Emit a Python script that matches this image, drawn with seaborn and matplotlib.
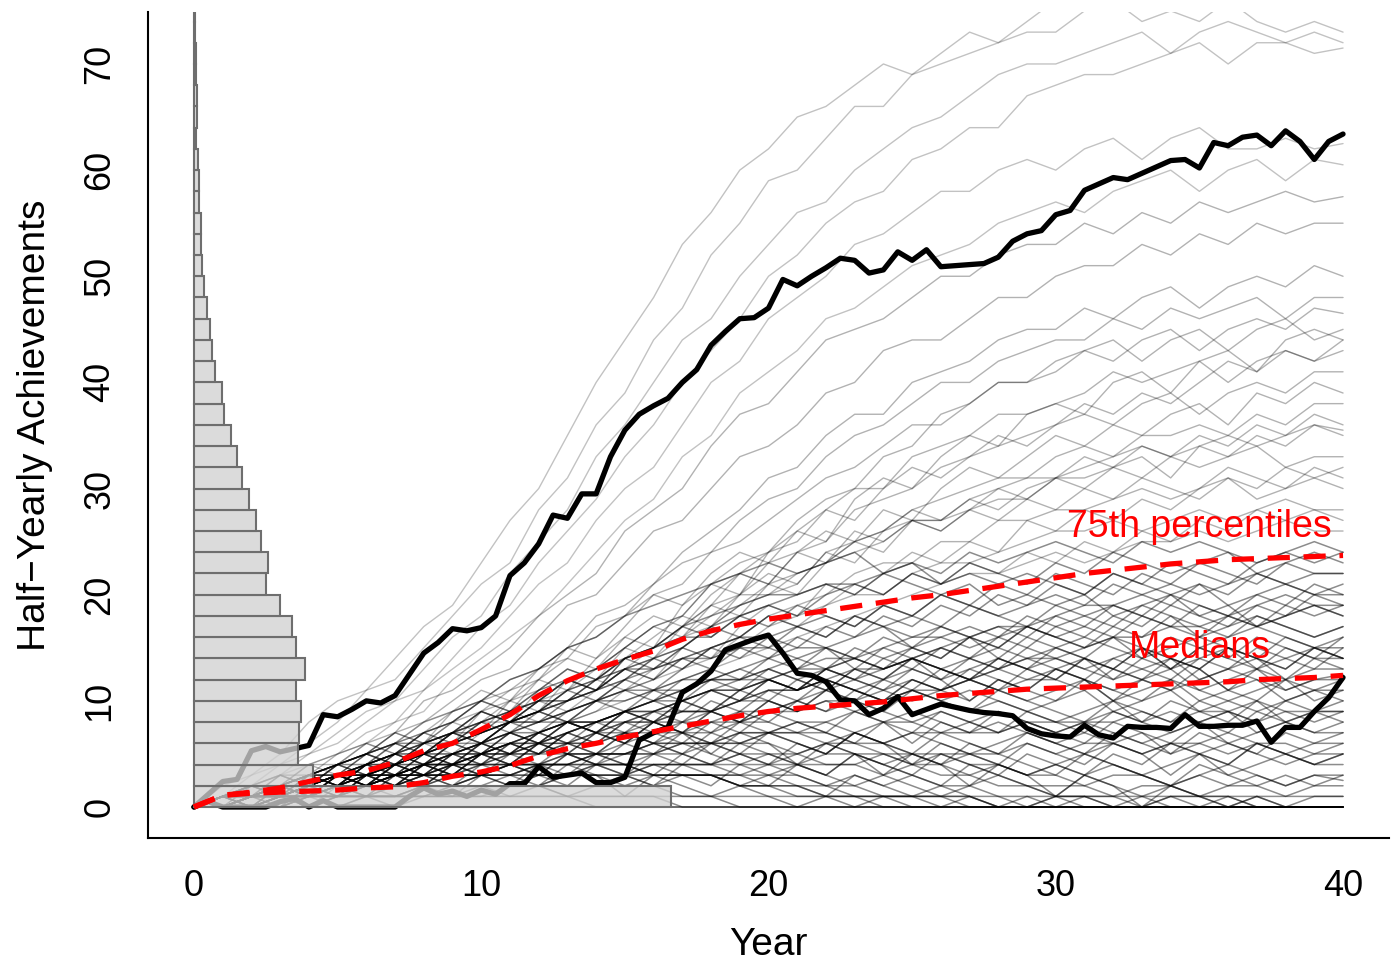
import numpy as np
import pandas as pd
import matplotlib
matplotlib.use("Agg")
import matplotlib.pyplot as plt
import seaborn as sns

# ---- data ------------------------------------------------------------------
years = list(range(41))
half_years = list(np.arange(0, 40.5, 0.5))

# histogram of achievements (bin edges every 2, bar length in year units)
hist_bins = list(range(0, 76, 2))
hist_lengths = [16.6, 4.15, 3.62, 3.65, 3.74, 3.54, 3.85, 3.56, 3.41, 3.0,
                2.51, 2.58, 2.34, 2.16, 1.90, 1.68, 1.50, 1.29, 1.05, 0.96,
                0.74, 0.62, 0.57, 0.44, 0.36, 0.28, 0.23, 0.24, 0.17, 0.17,
                0.14, 0.08, 0.10, 0.10, 0.07, 0.06, 0.04, 0.02]

# highlighted trajectories (half-yearly)
top_black = [0, 1.2, 2.4, 2.6, 5.3, 5.7, 5.2, 5.5, 5.8, 8.7,
             8.5, 9.2, 10.0, 9.8, 10.5, 12.5, 14.5, 15.5, 16.8, 16.6,
             16.9, 18.0, 21.8, 23.0, 24.8, 27.5, 27.2, 29.5, 29.5, 33.0,
             35.5, 37.0, 37.8, 38.5, 40.0, 41.2, 43.5, 44.8, 46.0, 46.1,
             47.0, 49.7, 49.1, 50.0, 50.8, 51.7, 51.5, 50.3, 50.6, 52.3,
             51.5, 52.5, 50.9, 51.0, 51.1, 51.2, 51.8, 53.3, 54.0, 54.3,
             55.8, 56.2, 58.1, 58.7, 59.3, 59.1, 59.7, 60.3, 60.9, 61.0,
             60.2, 62.6, 62.3, 63.1, 63.3, 62.3, 63.7, 62.7, 61.0, 62.7,
             63.4]
low_black = [0, 0.5, 0, 0, 0, 0, 0.5, 0.8, 0, 0.6,
             0, 0, 0, 0, 0, 1.0, 1.8, 1.2, 1.5, 1.0,
             1.6, 1.2, 2.2, 2.2, 3.8, 2.8, 3.0, 3.2, 2.3, 2.3,
             2.8, 6.3, 7.0, 7.5, 10.8, 11.6, 12.8, 14.8, 15.3, 15.8,
             16.2, 14.5, 12.6, 12.4, 11.8, 10.1, 10.0, 8.7, 9.3, 10.4,
             8.7, 9.2, 9.7, 9.4, 9.1, 8.9, 8.8, 8.6, 7.4, 6.9,
             6.7, 6.6, 7.7, 6.8, 6.5, 7.6, 7.5, 7.5, 7.4, 8.7,
             7.6, 7.6, 7.7, 7.7, 8.1, 6.1, 7.5, 7.5, 9.0, 10.3,
             12.2]

# yearly quantile curves
p75 = [0, 1.1, 1.4, 1.8, 2.4, 3.0, 3.4, 4.2, 5.3, 6.0,
       7.3, 8.7, 10.5, 11.9, 13.0, 13.9, 14.7, 15.8, 16.6, 17.2,
       17.7, 18.1, 18.5, 18.9, 19.3, 19.7, 20.0, 20.4, 20.8, 21.2,
       21.6, 22.0, 22.3, 22.6, 22.9, 23.1, 23.3, 23.4, 23.5, 23.6,
       23.7]
medians = [0, 1.1, 1.3, 1.4, 1.5, 1.6, 1.8, 1.9, 2.3, 2.9,
           3.3, 3.9, 4.8, 5.5, 6.0, 6.6, 7.1, 7.6, 8.1, 8.6,
           9.0, 9.3, 9.5, 9.7, 9.9, 10.2, 10.5, 10.7, 10.9, 11.1,
           11.2, 11.3, 11.4, 11.5, 11.6, 11.7, 11.8, 12.0, 12.1, 12.2,
           12.4]

# background trajectories (yearly)
gray_top = [
    [0,2,3,5,8,10,11,14,17,19, 23,27,30,35,40,44,48,53,56,60, 62,65,66,68,70,69,71,73,72,74, 76,77,76,78,79,77,79,80,78,79, 78],
    [0,1,3,4,6,8,11,12,15,18, 21,23,28,31,36,39,44,47,52,55, 59,60,63,66,66,69,70,71,72,73, 73,75,76,74,75,74,76,74,73,74, 73],
    [0,1,2,4,5,7,9,10,13,16, 18,22,25,28,33,36,40,44,46,50, 53,56,57,60,62,64,65,67,69,70, 70,71,72,73,71,73,74,73,72,73, 72],
    [0,1,2,3,5,6,8,10,11,14, 17,19,23,26,29,33,36,40,43,46, 50,52,55,57,58,61,62,64,64,67, 68,69,69,70,71,72,70,72,72,71, 71.5],
    [0,0,1,3,4,5,7,8,11,13, 15,18,21,23,27,30,32,36,40,42, 46,48,50,53,54,56,58,58,60,61, 60,62,63,61,63,64,62,62,63,62, 62.5],
    [0,1,1,2,4,5,6,8,9,12, 14,16,18,21,24,27,29,33,35,39, 41,43,46,47,49,51,52,53,55,56, 57,56,58,59,60,58,60,61,59,61, 60.5],
]
gray_upper = [
    [0,1,1,2,3,5,6,7,10,11, 13,15,18,20,22,26,28,30,34,37, 38,41,44,45,46,48,50,50,52,53, 53,55,54,56,55,57,56,57,58,57, 57.5],
    [0,0,1,2,4,4,5,7,8,10, 12,13,16,19,20,23,26,27,30,33, 34,36,39,40,43,44,44,46,48,48, 50,51,51,53,52,54,53,55,54,55, 55],
    [0,1,1,2,3,3,5,6,7,8, 10,12,13,15,18,19,21,24,26,28, 31,32,35,37,37,40,41,42,44,45, 45,47,46,48,49,47,49,50,49,51, 50],
    [0,0,1,1,2,3,4,5,7,8, 9,11,12,15,16,18,21,23,24,27, 29,30,33,35,36,38,40,40,42,43, 44,44,46,45,47,46,47,48,46,48, 48],
    [0,1,2,2,3,4,5,6,7,9, 10,11,13,14,17,18,20,21,24,25, 27,29,31,32,34,36,36,38,40,40, 42,43,42,44,45,43,45,46,45,47, 46.5],
    [0,0,1,1,2,3,3,4,5,6, 7,9,10,11,13,15,17,18,21,23, 24,27,29,30,33,34,37,38,40,40, 41,43,44,42,44,45,43,45,46,44, 45],
    [0,1,1,2,2,3,4,4,6,7, 8,9,11,12,13,15,17,18,21,22, 24,25,28,30,30,33,34,35,37,37, 38,39,41,40,41,42,40,42,43,42, 43],
    [0,0,1,2,3,3,4,5,5,6, 8,8,9,11,12,13,15,17,19,20, 23,24,25,28,29,30,32,33,34,35, 36,37,36,38,39,37,39,40,39,41, 41],
    [0,1,1,1,2,2,3,4,5,5, 6,7,8,10,11,12,14,15,17,19, 20,21,24,25,26,28,29,30,31,31, 33,34,33,35,35,36,35,37,36,38, 38],
    [0,0,1,1,2,3,3,4,5,6, 7,8,9,10,11,13,14,16,17,19, 21,22,23,25,26,27,27,29,30,31, 31,32,33,34,33,34,35,34,35,36, 35.5],
    [0,1,1,2,2,3,4,4,5,6, 7,8,10,10,12,14,15,16,18,20, 20,22,23,24,25,27,27,28,29,29, 31,31,32,31,33,32,33,34,32,33, 33],
    [0,0,0,1,1,2,2,3,4,5, 5,7,8,9,10,11,12,14,15,16, 18,19,20,22,23,23,25,25,27,27, 28,28,29,30,29,30,31,29,30,31, 30],
    [0,0,1,1,2,2,3,3,4,4, 5,6,7,8,9,11,12,13,14,15, 17,18,19,20,20,22,23,23,24,25, 26,26,27,26,27,28,27,28,29,28, 28],
    [0,1,1,1,2,3,3,4,4,5, 6,6,7,8,9,10,11,12,13,14, 15,16,17,18,19,20,21,22,22,23, 24,23,24,25,25,26,25,26,27,26, 26],
    [0,1,2,1,3,4,3,5,7,6, 9,10,12,11,14,16,15,19,21,20, 24,26,25,29,31,30,33,35,34,37, 38,37,40,41,39,42,43,41,44,45, 44],
    [0,0,1,2,1,3,5,4,6,8, 7,10,11,13,12,15,17,16,19,22, 21,24,26,25,28,27,30,32,31,33, 35,34,36,35,37,38,36,39,38,40, 39],
    [0,1,1,3,2,4,5,7,6,9, 11,10,13,15,14,17,20,19,22,24, 23,26,28,27,30,32,31,33,35,34, 36,38,37,39,38,40,42,41,43,42, 44],
    [0,0,2,1,3,2,4,6,5,7, 9,8,11,12,11,14,16,18,17,20, 22,21,24,23,26,28,27,29,28,30, 31,30,32,33,31,34,33,35,34,36, 35],
    [0,1,0,2,3,2,4,5,7,6, 8,10,9,12,13,15,14,17,19,18, 21,20,23,25,24,27,26,28,30,29, 31,33,32,34,33,35,34,36,35,37, 36],
    [0,0,1,1,3,2,4,3,5,7, 6,8,10,9,11,13,12,15,14,17, 19,18,21,20,22,24,23,25,24,27, 26,28,27,29,28,30,32,31,30,32, 31],
    [0,1,2,2,4,3,5,7,6,8, 10,9,12,14,13,16,18,17,20,22, 21,24,23,26,25,27,26,28,27,29, 28,30,29,31,30,29,31,30,32,31, 32],
    [0,0,1,2,2,4,3,5,6,5, 7,9,8,10,12,11,13,15,14,16, 18,17,19,21,20,22,21,23,22,24, 23,25,24,26,25,27,26,28,27,28, 27],
]
gray_mid = [
    [0,0,1,1,2,2,3,4,5,6, 6,8,9,10,11,13,14,15,17,18, 19,20,21,21,22,23,22,24,23,24, 25,24,23,25,24,25,24,23,24,25, 24],
    [0,1,1,2,3,3,4,5,5,7, 8,9,10,12,13,14,15,16,16,18, 19,18,20,21,20,22,21,23,22,21, 23,22,24,23,22,23,24,22,23,24, 23],
    [0,0,0,1,1,2,2,3,3,4, 5,5,6,7,8,9,10,11,12,13, 14,15,15,16,17,18,17,19,18,19, 20,19,21,20,19,21,20,22,21,20, 21],
    [0,1,2,2,3,4,5,6,8,9, 10,12,13,15,16,18,19,20,21,22, 23,22,23,24,22,23,21,22,21,22, 21,20,22,21,20,21,19,20,21,20, 20],
    [0,0,1,1,1,2,2,3,4,4, 5,6,6,7,8,9,9,10,11,12, 12,13,14,14,15,16,16,17,16,18, 17,18,19,18,17,19,18,19,20,19, 19],
    [0,1,1,2,2,3,4,4,5,6, 7,8,9,11,12,14,15,17,18,19, 20,20,21,20,22,21,20,21,19,20, 19,20,18,19,20,18,19,17,18,19, 18],
    [0,0,1,1,2,2,3,3,4,5, 5,6,7,8,8,9,10,11,12,12, 13,14,13,15,14,15,16,15,16,17, 16,17,16,18,17,16,17,18,17,16, 17],
    [0,0,0,1,1,1,2,2,3,3, 4,4,5,6,6,7,8,8,9,10, 11,11,12,13,13,14,13,14,15,14, 15,16,15,14,16,15,16,17,16,15, 16],
    [0,1,1,2,3,4,4,5,6,7, 8,9,10,10,12,13,13,14,15,16, 16,17,16,18,17,16,17,16,15,17, 16,15,16,14,15,16,15,14,16,15, 15],
    [0,0,1,1,2,2,2,3,3,4, 5,5,6,6,7,8,8,9,9,10, 11,11,12,11,12,13,12,13,14,13, 14,13,14,15,13,14,15,13,14,15, 14],
    [0,1,1,1,2,2,3,3,4,4, 5,6,6,7,8,8,9,10,11,11, 12,13,13,14,13,14,15,14,13,14, 13,14,12,13,14,12,13,14,12,13, 13],
    [0,0,0,0,1,1,1,2,2,3, 3,4,4,5,5,6,7,7,8,8, 9,9,10,10,11,10,11,12,11,12, 12,11,13,12,11,12,13,12,11,12, 12.5],
    [0,0,1,2,2,3,3,4,5,6, 7,8,9,10,11,12,13,14,14,15, 15,14,15,14,13,14,13,12,13,12, 13,12,11,12,13,11,12,13,11,12, 12],
    [0,1,1,2,3,3,4,5,6,6, 7,8,8,9,10,10,11,11,12,12, 13,12,13,12,11,12,11,12,11,10, 11,12,10,11,12,10,11,12,10,11, 11],
    [0,0,0,0,0,1,1,1,2,2, 3,3,4,4,5,5,6,7,7,8, 9,10,11,12,13,14,15,16,17,17, 18,19,19,20,21,20,21,22,21,22, 22],
    [0,0,0,0,1,1,1,1,2,2, 2,3,3,3,4,4,5,5,6,6, 7,8,8,9,10,11,11,12,13,14, 14,15,16,16,17,17,18,17,18,19, 18],
    [0,1,0,2,3,2,4,5,4,6, 8,7,9,11,10,12,14,13,15,16, 15,17,18,17,19,18,20,19,21,20, 22,21,20,22,21,23,22,21,23,22, 22],
    [0,0,1,2,1,3,4,3,5,7, 6,8,9,8,10,11,10,12,13,12, 14,13,15,14,16,15,14,16,15,17, 16,15,17,16,18,17,16,18,17,16, 17],
    [0,1,2,1,3,4,6,5,7,8, 10,9,11,13,12,14,15,17,16,18, 17,19,18,17,19,18,20,19,18,17, 19,18,17,19,18,16,18,17,19,18, 19],
    [0,0,0,1,2,1,3,2,4,5, 4,6,5,7,8,7,9,10,9,11, 12,11,13,12,14,13,15,14,16,15, 17,16,18,17,19,18,17,19,18,20, 19],
    [0,1,1,3,2,4,5,4,6,7, 9,8,10,12,11,13,12,14,13,15, 14,16,15,13,15,14,12,14,13,15, 14,13,12,14,13,15,14,13,15,14, 14],
    [0,0,2,1,2,3,2,4,3,5, 6,5,7,6,8,9,8,10,9,11, 10,12,11,13,12,14,13,12,14,13, 15,14,13,15,14,13,15,14,13,15, 14],
    [0,1,0,1,2,3,2,4,5,4, 6,7,6,8,7,9,10,9,11,10, 12,11,13,12,11,13,12,10,12,11, 13,12,10,12,11,13,11,10,12,11, 12],
    [0,0,1,0,2,1,3,4,3,5, 6,8,7,9,10,12,11,13,15,14, 16,15,17,16,18,17,19,18,20,19, 21,20,22,21,23,22,21,23,24,23, 24],
    [0,1,1,2,1,2,3,2,4,3, 5,4,6,5,7,6,8,7,9,8, 10,9,11,10,12,11,13,12,11,13, 12,14,13,12,14,13,11,13,12,14, 13],
    [0,0,1,2,3,2,4,6,5,7, 9,8,10,12,11,14,13,15,17,16, 18,17,16,18,17,15,17,16,14,16, 15,14,16,15,13,15,14,16,15,14, 16],
    [0,1,0,2,1,3,2,3,4,3, 5,6,5,7,6,8,9,8,10,9, 11,10,12,11,10,12,11,13,12,11, 10,12,11,10,12,11,10,11,12,10, 11],
    [0,0,1,1,2,3,2,4,5,4, 6,5,7,8,7,9,8,10,11,10, 12,11,13,14,13,15,14,16,17,16, 18,17,19,18,20,19,18,20,19,21, 20],
    [0,1,2,3,2,4,5,4,6,7, 6,8,9,8,10,9,11,10,12,11, 13,12,11,13,12,14,13,12,14,13, 12,14,13,15,14,13,15,14,13,15, 14],
    [0,0,0,1,1,2,1,3,2,4, 3,5,4,6,5,7,6,8,7,9, 8,10,9,11,10,12,11,10,12,11, 13,12,14,13,12,14,13,15,14,13, 15],
]
gray_low = [
    [0,0,1,1,2,2,3,3,4,5, 5,6,7,8,8,9,10,10,11,11, 12,11,12,11,10,11,10,11,10,9, 10,11,9,10,11,9,10,9,10,11, 10],
    [0,1,1,2,2,3,3,4,4,5, 6,7,8,9,10,11,11,12,12,13, 12,11,12,11,10,11,10,9,10,9, 8,9,10,8,9,8,9,10,8,9, 9],
    [0,0,0,1,1,1,2,2,2,3, 3,3,4,4,5,5,5,6,6,7, 7,7,8,7,8,8,7,8,9,8, 7,8,9,8,7,8,9,7,8,9, 8],
    [0,0,1,1,1,2,2,3,3,4, 4,5,5,6,6,7,7,8,8,9, 9,10,9,10,9,8,9,8,7,8, 7,8,7,6,7,8,6,7,8,7, 7],
    [0,1,1,1,2,2,2,3,3,3, 4,4,4,5,5,5,6,6,6,7, 7,7,6,7,6,7,6,5,6,7, 6,5,6,7,5,6,7,6,5,6, 6],
    [0,0,0,1,1,2,2,3,3,4, 4,5,6,6,7,8,8,9,9,10, 10,9,10,9,8,9,8,7,8,7, 6,7,6,5,6,5,6,5,4,5, 5],
    [0,0,0,0,1,1,1,1,2,2, 2,2,3,3,3,3,4,4,4,4, 5,4,5,5,4,5,4,5,4,3, 4,5,4,3,4,5,3,4,5,4, 4],
    [0,1,1,1,1,2,2,2,3,3, 3,4,4,4,5,5,5,6,6,6, 6,5,6,5,5,4,5,4,4,3, 4,3,4,3,2,3,4,3,2,3, 3],
    [0,0,1,1,1,1,2,2,2,2, 3,3,3,3,4,4,4,4,4,5, 4,5,4,4,3,4,3,3,4,3, 3,2,3,3,2,3,2,3,2,3, 2.5],
    [0,0,0,0,1,1,1,1,1,2, 2,2,2,3,3,3,3,3,3,3, 3,3,2,3,2,3,2,2,3,2, 2,2,1,2,2,1,2,2,1,2, 2],
    [0,0,0,0,0,0,1,1,1,1, 1,2,2,2,2,2,3,3,3,3, 4,4,4,4,5,5,5,5,5,6, 5,6,6,5,6,6,5,6,6,5, 6],
    [0,0,0,0,0,1,1,1,1,2, 2,2,2,3,3,3,4,4,4,5, 5,5,6,6,6,7,7,7,7,8, 8,8,8,9,8,9,9,8,9,9, 9],
    [0,1,0,2,1,3,2,4,3,5, 4,6,5,7,6,8,7,6,8,7, 9,8,7,9,8,6,8,7,9,8, 7,6,8,7,6,8,7,9,8,7, 8],
    [0,0,1,0,2,1,3,2,4,3, 5,4,6,5,4,6,5,7,6,5, 7,6,5,7,6,4,6,5,4,6, 5,4,6,5,3,5,4,6,5,4, 5],
    [0,1,2,1,3,2,4,5,4,6, 5,7,6,8,7,9,8,7,6,8, 7,6,5,7,6,5,4,6,5,4, 3,5,4,3,2,4,3,2,3,2, 3],
    [0,0,1,2,1,3,2,3,2,4, 3,2,4,3,5,4,3,5,4,3, 2,4,3,2,3,2,1,2,1,0, 1,0,0,1,0,0,1,0,0,0, 0],
    [0,1,0,1,2,1,3,2,4,3, 5,4,6,5,7,6,8,7,9,8, 10,9,11,10,9,11,10,9,11,10, 9,8,10,9,8,10,9,8,10,9, 10],
    [0,0,1,1,0,2,1,3,2,4, 3,4,3,5,4,3,5,4,6,5, 4,6,5,7,6,5,7,6,5,7, 6,5,7,6,5,7,6,5,7,6, 7],
    [0,1,1,2,3,2,4,3,5,4, 6,5,7,6,5,7,6,5,4,6, 5,4,3,5,4,3,2,4,3,2, 1,3,2,1,2,1,0,1,0,0, 0],
    [0,0,0,1,0,1,2,1,2,1, 3,2,3,2,4,3,2,4,3,2, 3,2,1,3,2,1,2,1,0,1, 0,1,0,0,1,0,0,0,0,0, 0],
    [0,1,0,1,1,2,1,2,3,2, 3,4,3,5,4,5,6,5,7,6, 7,8,7,6,8,7,9,8,7,9, 8,7,9,8,10,9,8,10,9,8, 9],
    [0,0,1,2,3,4,3,5,4,6, 5,7,6,8,7,6,8,7,5,7, 6,4,6,5,3,5,4,2,4,3, 1,3,2,0,2,1,0,1,0,0, 0],
    [0,1,2,2,1,3,2,4,3,2, 4,3,2,4,3,1,3,2,1,2, 1,0,1,0,1,0,0,1,0,0, 0,0,0,0,0,0,0,0,0,0, 0],
    [0,0,0,0,1,0,1,0,1,1, 2,1,2,1,2,3,2,3,2,4, 3,4,3,5,4,3,5,4,3,5, 4,3,5,4,6,5,4,6,5,4, 5],
]
gray_zero = [
    [0,0,1,1,1,1,2,2,2,2, 2,2,2,1,1,1,1,0,0,0, 0,0,0,0,0,0,0,0,0,0, 0,0,0,0,0,0,0,0,0,0, 0],
    [0,1,1,2,2,3,3,3,4,4, 4,4,3,3,3,2,2,1,1,0, 0,0,0,0,0,0,0,0,0,0, 0,0,0,0,0,0,0,0,0,0, 0],
    [0,0,0,1,1,1,1,1,1,1, 1,1,1,1,0,0,0,0,0,0, 0,0,0,0,0,0,0,0,0,0, 0,0,0,0,0,0,0,0,0,0, 0],
    [0,0,1,1,2,2,3,3,4,4, 5,5,5,5,5,4,4,3,3,2, 2,1,1,1,0,0,0,0,0,0, 0,0,0,0,0,0,0,0,0,0, 0],
    [0,1,1,1,2,2,2,3,3,3, 3,4,4,4,4,4,3,3,3,2, 2,2,2,1,1,1,1,1,0,0, 0,0,0,0,0,0,0,0,0,0, 0],
    [0,0,0,0,0,1,1,1,1,1, 1,1,1,1,1,1,1,1,1,1, 1,1,1,1,1,1,1,1,1,1, 1,1,1,1,1,1,1,1,1,1, 1],
    [0,0,0,0,0,0,0,0,0,0, 0,0,0,0,0,0,0,0,0,0, 0,0,0,0,0,0,0,0,0,0, 0,0,0,0,0,0,0,0,0,0, 0],
    [0,1,2,3,3,4,5,6,6,7, 7,8,8,8,7,7,6,6,5,4, 4,3,2,2,1,1,0,0,0,0, 0,0,0,0,0,0,0,0,0,0, 0],
    [0,0,1,1,2,3,3,4,5,5, 6,7,7,8,8,9,9,9,9,8, 8,7,7,6,5,4,4,3,2,2, 1,1,1,0,0,0,0,0,0,0, 0],
    [0,0,0,1,1,2,2,2,3,3, 3,3,4,4,4,4,3,3,3,2, 2,2,1,1,1,1,1,0,0,0, 1,1,0,0,1,1,1,0,0,1, 1],
]

# ---- build long-form tables ------------------------------------------------
def to_long(groups):
    rows = []
    uid = 0
    for group in groups:
        for traj in group:
            for yr, val in zip(years, traj):
                rows.append((uid, yr, val))
            uid += 1
    return pd.DataFrame(rows, columns=["unit", "year", "value"])

sparse_df = to_long([gray_top])
upper_df = to_long([gray_upper])
dense_df = to_long([gray_mid, gray_low, gray_zero])

# ---- plot --------------------------------------------------------------------
sns.set_style("white")
plt.rcParams["font.family"] = ["Liberation Sans", "DejaVu Sans"]
plt.rcParams.update({
    "text.color": "black",
    "axes.labelcolor": "black",
    "xtick.color": "black",
    "ytick.color": "black",
})

fig = plt.figure(figsize=(13.95, 9.64), dpi=100)
ax = fig.add_axes([0.1061, 0.1307, 0.8896, 0.8569])

sns.lineplot(data=sparse_df, x="year", y="value", units="unit", estimator=None,
             color="black", alpha=0.24, linewidth=1.0, ax=ax, zorder=1)
sns.lineplot(data=upper_df, x="year", y="value", units="unit", estimator=None,
             color="black", alpha=0.3, linewidth=1.0, ax=ax, zorder=1)
sns.lineplot(data=dense_df, x="year", y="value", units="unit", estimator=None,
             color="black", alpha=0.45, linewidth=1.1, ax=ax, zorder=1)

sns.lineplot(x=half_years, y=top_black, color="black", linewidth=3.8, ax=ax, zorder=2)
sns.lineplot(x=half_years, y=low_black, color="black", linewidth=3.8, ax=ax, zorder=2)

ax.barh([b + 1 for b in hist_bins], hist_lengths, height=2, left=0,
        color=(0.82, 0.82, 0.82, 0.78), edgecolor="#6e6e6e", linewidth=1.5, zorder=3)

for curve in (p75, medians):
    ax.plot(years, curve, color="red", linewidth=3.8, dashes=(4.2, 2.6),
            dash_capstyle="butt", zorder=4)

ax.text(35, 26.4, "75th percentiles", color="red", fontsize=27, ha="center", va="center", zorder=5)
ax.text(35, 15.0, "Medians", color="red", fontsize=27, ha="center", va="center", zorder=5)

ax.set_xlim(-1.6, 41.6)
ax.set_ylim(-2.92, 74.9)
ax.set_xticks([0, 10, 20, 30, 40])
ax.set_yticks([0, 10, 20, 30, 40, 50, 60, 70])
ax.set_xlabel("Year", fontsize=28, labelpad=17)
ax.set_ylabel("Half\u2212Yearly Achievements", fontsize=28, labelpad=21)

ax.tick_params(axis="both", direction="out", length=12, width=1.5, pad=10,
               labelsize=26, color="black", labelcolor="black")
for lab in ax.get_yticklabels():
    lab.set_rotation(90)
    lab.set_va("center")

sns.despine(ax=ax)
for side in ("left", "bottom"):
    ax.spines[side].set_linewidth(1.5)
    ax.spines[side].set_color("black")

fig.savefig("out.png", dpi=100)
